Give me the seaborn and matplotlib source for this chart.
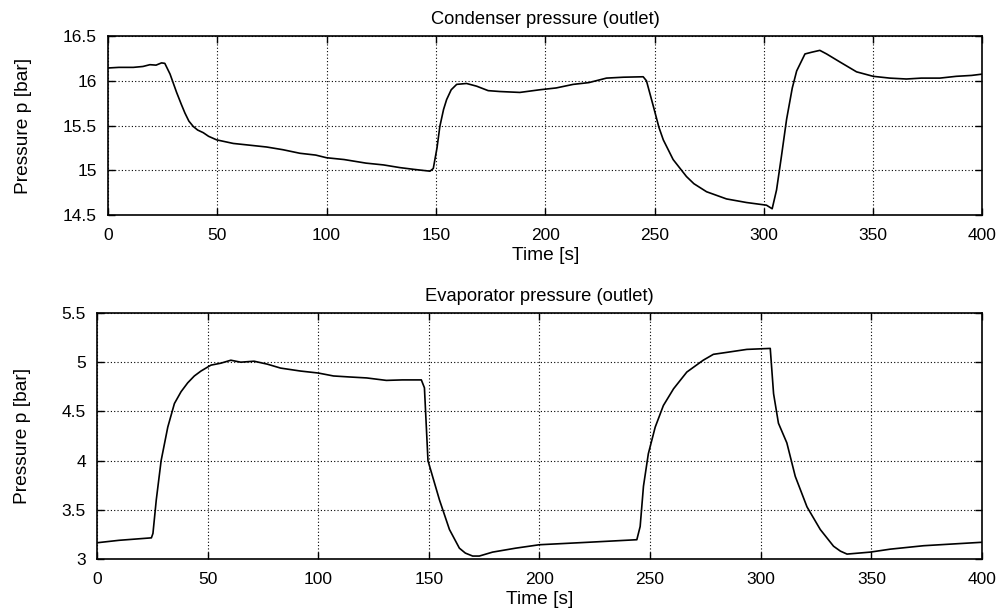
import matplotlib
matplotlib.use("Agg")
import matplotlib.pyplot as plt
import seaborn as sns
import pandas as pd

# Condenser pressure (outlet)
cond_t = [0, 5, 11.6, 16, 19.2, 22, 24.5, 26, 28.4, 31.4, 33.5, 35.2, 37, 39, 41, 43.6, 46, 49.7,
          57.3, 65, 72.6, 80, 87.8, 95, 100, 108, 118, 126, 133.5, 140, 147.3, 148.8, 150.5,
          151.8, 153.5, 154.9, 157, 159.5, 164, 168.6, 173.9, 179.3, 188.4, 197.6, 205,
          212.8, 220, 228, 235.7, 244.8, 246.3, 249.4, 252, 254, 258.5, 264.6, 268, 273.8,
          282.9, 292, 301.2, 303.8, 305.8, 308, 310.4, 313, 315, 318.8, 322, 325.6, 328.7,
          334.8, 342.4, 350, 357.6, 365.2, 372, 380.5, 388, 395, 400]
cond_p = [16.143, 16.15, 16.15, 16.16, 16.18, 16.175, 16.2, 16.195, 16.075, 15.87, 15.74, 15.64,
          15.55, 15.49, 15.45, 15.42, 15.38, 15.34, 15.30, 15.28, 15.26, 15.23, 15.19, 15.17,
          15.14, 15.12, 15.08, 15.06, 15.03, 15.01, 14.99, 15.02, 15.25, 15.49, 15.68, 15.79,
          15.90, 15.96, 15.97, 15.94, 15.89, 15.88, 15.87, 15.90, 15.92, 15.96, 15.98, 16.03,
          16.04, 16.045, 16.0, 15.72, 15.48, 15.34, 15.12, 14.93, 14.85, 14.76, 14.68, 14.64,
          14.61, 14.57, 14.78, 15.15, 15.57, 15.92, 16.11, 16.30, 16.32, 16.34, 16.30, 16.21,
          16.10, 16.05, 16.03, 16.02, 16.03, 16.03, 16.05, 16.06, 16.075]

# Evaporator pressure (outlet)
evap_t = [0, 10, 24.6, 25.3, 26.8, 29, 32, 35, 38, 41, 44, 47, 51.5, 56, 60.5, 65, 71, 77, 83,
          92, 100, 106.9, 114, 121.9, 130.8, 138, 144.3, 146.6, 148, 149.6, 151.8, 154.8,
          159.3, 163.8, 166.5, 169.8, 172.8, 178.8, 189.2, 200, 222, 244, 245.5, 247, 249.2,
          252.3, 256, 260.6, 266.6, 274, 278.6, 284.7, 293.7, 304.3, 305.8, 308, 311.8,
          315.6, 320.9, 326.9, 332.9, 336, 339, 349.5, 358.5, 373.6, 388.6, 400]
evap_p = [3.165, 3.19, 3.215, 3.26, 3.60, 4.0, 4.34, 4.58, 4.70, 4.79, 4.86, 4.91, 4.97, 4.99,
          5.02, 5.0, 5.01, 4.98, 4.94, 4.91, 4.89, 4.86, 4.85, 4.84, 4.815, 4.82, 4.82, 4.82,
          4.74, 4.0, 3.83, 3.60, 3.30, 3.11, 3.06, 3.03, 3.03, 3.07, 3.11, 3.145, 3.17, 3.196,
          3.33, 3.74, 4.07, 4.34, 4.56, 4.73, 4.90, 5.02, 5.08, 5.10, 5.13, 5.14, 4.68, 4.38,
          4.18, 3.84, 3.53, 3.30, 3.13, 3.08, 3.05, 3.07, 3.10, 3.135, 3.155, 3.17]

x_ticks = [0, 50, 100, 150, 200, 250, 300, 350, 400]
cond_yticks = [14.5, 15, 15.5, 16, 16.5]
cond_ylabels = ["14.5", "15", "15.5", "16", "16.5"]
evap_yticks = [3, 3.5, 4, 4.5, 5, 5.5]
evap_ylabels = ["3", "3.5", "4", "4.5", "5", "5.5"]

sns.set_style("ticks")
plt.rcParams["font.family"] = ["Liberation Sans", "DejaVu Sans"]
plt.rcParams["text.color"] = "black"
plt.rcParams["axes.labelcolor"] = "black"
plt.rcParams["xtick.color"] = "black"
plt.rcParams["ytick.color"] = "black"

fig = plt.figure(figsize=(10.08, 6.10), dpi=100)
ax1 = fig.add_axes([0.1071, 0.6475, 0.8676, 0.2934])
ax2 = fig.add_axes([0.0962, 0.0836, 0.8780, 0.4033])

df1 = pd.DataFrame({"t": cond_t, "p": cond_p})
df2 = pd.DataFrame({"t": evap_t, "p": evap_p})

for ax, df, yt, yl, title, ylim, ylx in [
    (ax1, df1, cond_yticks, cond_ylabels, "Condenser pressure (outlet)", (14.5, 16.5), -0.0869),
    (ax2, df2, evap_yticks, evap_ylabels, "Evaporator pressure (outlet)", (3, 5.5), -0.0746),
]:
    sns.lineplot(data=df, x="t", y="p", ax=ax, color="black", linewidth=1.2)
    ax.set_xlim(0, 400)
    ax.set_ylim(*ylim)
    ax.set_xticks(x_ticks)
    ax.set_xticklabels([str(v) for v in x_ticks])
    ax.set_yticks(yt)
    ax.set_yticklabels(yl)
    ax.grid(True, color="black", linestyle=(0, (1, 2)), linewidth=0.8)
    ax.tick_params(direction="in", top=True, right=True, length=5, width=1.0,
                   labelsize=12.5, colors="black")
    ax.tick_params(axis="x", pad=9)
    ax.tick_params(axis="y", pad=8)
    for s in ax.spines.values():
        s.set_color("black")
        s.set_linewidth(1.2)
    ax.set_title(title, fontsize=13.2, pad=8.5, color="black")
    ax.set_xlabel("Time [s]", fontsize=13.8, labelpad=3.5, color="black")
    ax.set_ylabel("Pressure p [bar]", fontsize=13.8, color="black")
    ax.yaxis.set_label_coords(ylx, 0.5)

fig.savefig("out.png", dpi=100)
